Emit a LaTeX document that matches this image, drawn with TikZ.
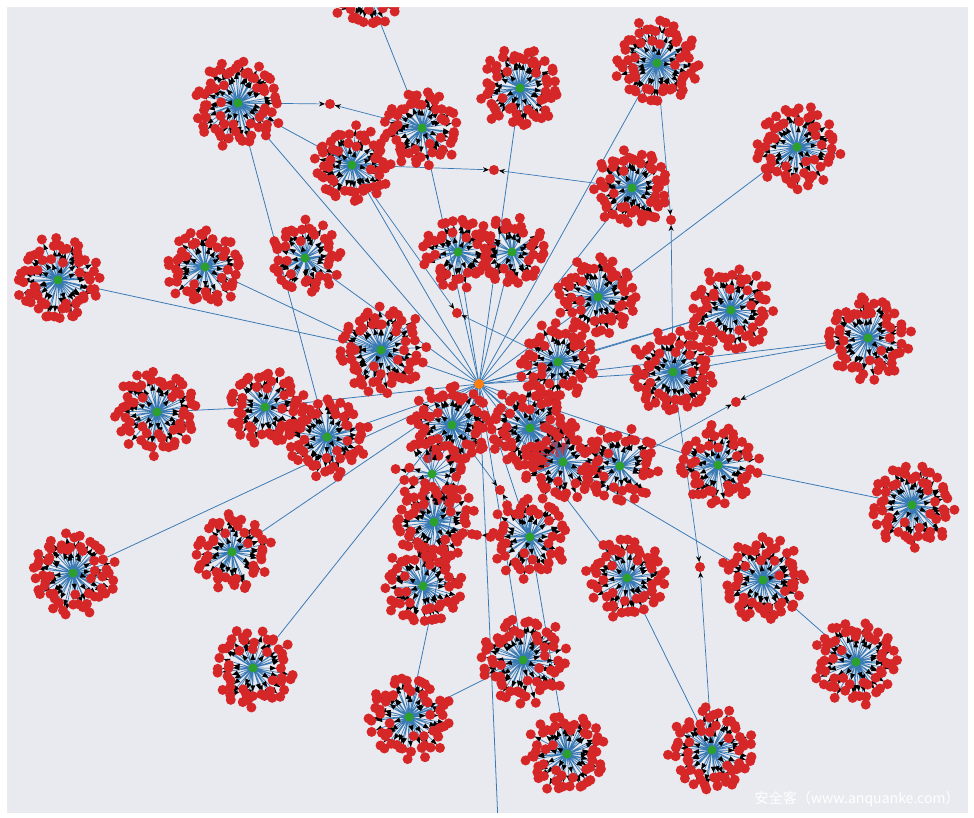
\documentclass[tikz,border=0pt]{standalone}
\usepackage{fontspec}
\newfontfamily\cjk{Noto Sans CJK SC}
\usetikzlibrary{arrows.meta}
\definecolor{panelgray}{HTML}{E9EAF0}
\definecolor{edgeblue}{HTML}{3A7AB4}
\definecolor{leafred}{HTML}{D62728}
\definecolor{rootgreen}{HTML}{2CA02C}
\definecolor{huborange}{HTML}{FF7F0E}
\tikzset{leafpt/.style={circle, fill=leafred, inner sep=0pt, minimum size=0.2cm}}
\tikzset{rootpt/.style={circle, fill=rootgreen, inner sep=0pt, minimum size=0.18cm}}
\tikzset{hubpt/.style={circle, fill=huborange, inner sep=0pt, minimum size=0.2cm}}
\tikzset{leafedge/.style={draw=edgeblue, line width=0.4pt}}
\tikzset{sharededge/.style={draw=edgeblue, line width=0.4pt, shorten >=0.1cm, -{Stealth[black, length=0.12cm, width=0.1cm]}}}
\tikzset{linkedge/.style={draw=edgeblue, line width=0.45pt}}
% clusters: x / y / leaves / outer radius
\newcommand{\clusterlist}{
  238/103/62/44, 352/165/53/38, 422/128/50/38, 520/88/54/40,
  657/63/58/42, 797/147/55/42, 632/188/53/38, 58/280/58/42,
  205/267/48/38, 305/258/43/36, 458/252/43/36, 512/252/38/34,
  598/297/54/40, 731/310/55/42, 381/350/60/44, 558/362/48/38,
  673/372/60/42, 868/338/58/42, 157/412/58/42, 265/407/48/38,
  327/437/54/40, 452/425/54/40, 530/428/58/42, 563/462/48/40,
  620/466/43/38, 718/465/50/40, 912/505/55/42, 432/474/22/36,
  434/522/50/40, 530/537/48/40, 423/586/50/40, 232/552/46/38,
  73/573/58/42, 627/578/54/40, 763/580/58/42, 523/660/58/44,
  856/662/58/42, 253/668/50/40, 409/717/55/42, 567/754/54/40,
  712/750/58/42, 368/-8/41/36}
% leaf angle and distance from its cluster centre
\newcommand{\leafang}{\j*137.508+\k*47+9*sin(\j*163+\k*31)}
\newcommand{\leafrad}{17+(\rr-18)*sqrt(\j/\n)+3.5*sin(\j*211+\k*73)}

\begin{document}
\begin{tikzpicture}[x=0.02cm, y=-0.02cm]

\useasboundingbox (0,0) rectangle (974,818);
\fill[panelgray] (7,7) rectangle (968,813);

\foreach \cx/\cy/\n/\rr [count=\k] in \clusterlist
  \coordinate (c\k) at (\cx,\cy);
\coordinate (hub) at (479,384);
\coordinate (offb) at (498,822);

% leaves shared by two clusters
\coordinate (s1) at (330,104);
\coordinate (s2) at (494,170);
\coordinate (s3) at (671,220);
\coordinate (s4) at (736,402);
\coordinate (s5) at (700,567);
\coordinate (s6) at (457,313);
\coordinate (s7) at (477,535);
\coordinate (s8) at (500,490);

\foreach \i in {1,2,3,4,5,7,10,11,12,13,14,15,16,17,18,20,21,22,23,24,25,26,
  28,29,30,31,32,33,34,36,38,39}
  \draw[linkedge] (hub) -- (c\i);
\foreach \a/\b in {c42/c3, c8/c15, c9/c15, c19/c20, c6/c13, c27/c26, c35/c24,
  c37/c35, c40/c30, c39/c36, c41/c34, c1/c2, c1/c21, c14/c16, c18/c17, c31/c29}
  \draw[linkedge] (\a) -- (\b);
\draw[linkedge] (hub) -- (offb);

\foreach \a/\b in {c1/s1, c3/s1, c2/s2, c7/s2, c5/s3, c17/s3, c18/s4, c25/s4,
  c17/s5, c41/s5, c2/s6, c16/s6, c29/s7, c30/s7, c22/s8, c30/s8}
  \draw[sharededge] (\a) -- (\b);

% each cluster: spokes, arrow heads, leaves
\foreach \cx/\cy/\n/\rr [count=\k] in \clusterlist {
  \foreach \j in {1,...,\n}{
    \pgfmathsetmacro{\ang}{\leafang}
    \pgfmathsetmacro{\rad}{\leafrad}
    \coordinate (c\k-\j) at ({\cx+\rad*cos(\ang)},{\cy+\rad*sin(\ang)});
  }
  \draw[leafedge] foreach \j in {1,...,\n}{(c\k) -- (c\k-\j)};
  \fill[black] foreach \j [evaluate=\j as \ang using \leafang,
      evaluate=\j as \rad using \leafrad] in {1,...,\n}
    {({\cx+(\rad-4.8)*cos(\ang)},{\cy+(\rad-4.8)*sin(\ang)})
      -- ++({-6*cos(\ang)-2.5*sin(\ang)},{-6*sin(\ang)+2.5*cos(\ang)})
      -- ++({5*sin(\ang)},{-5*cos(\ang)}) -- cycle};
  \fill[leafred] foreach \j in {1,...,\n}{(c\k-\j) circle (5)};
}

\foreach \s in {s1,s2,s3,s4,s5,s6,s7,s8}
  \node[leafpt] (leaf-\s) at (\s) {};
\foreach \k in {1,...,42}
  \node[rootpt] (root\k) at (c\k) {};
\node[hubpt] (core) at (hub) {};

\fill[white, even odd rule] (0,0) rectangle (974,818) (7,7) rectangle (968,813);

\node[text=white, anchor=east, inner sep=0pt, font=\cjk\fontsize{8}{10}\selectfont] (wm) at (960,799) {安全客（www.anquanke.com）};

\end{tikzpicture}
\end{document}
